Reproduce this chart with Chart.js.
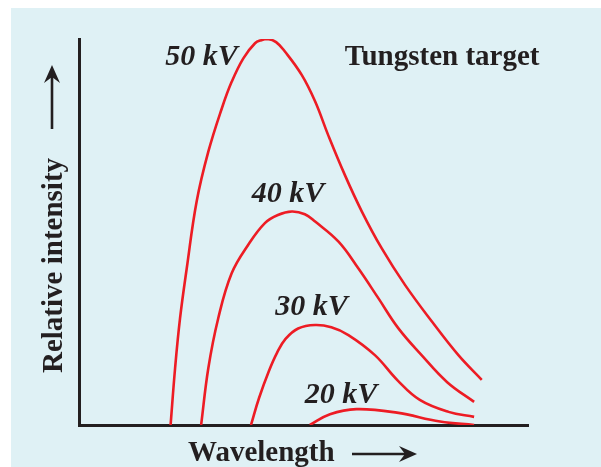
<!DOCTYPE html>
<html>
<head>
    <meta charset="UTF-8">
    <title>Tungsten target X-ray spectrum</title>
    <style>
        html, body { margin: 0; padding: 0; background: #ffffff; }
        #myChart { display: block; }
    </style>
</head>
<body>
    <canvas id="myChart" width="601" height="467"></canvas>

    <script src="https://cdn.jsdelivr.net/npm/chart.js@4.4.1/dist/chart.umd.min.js"></script>
    <script>
        // wavelength (arbitrary units 0-100) and relative intensity (0-100)
        var wl50  = [20.4, 21.4, 22.5, 24.0, 26.2, 28.8, 31.8, 34.0, 36.6, 39.2, 40.6, 42.0, 43.9, 45.9, 49.6, 52.6, 55.5, 59.2, 63.0, 67.4, 72.6, 78.6, 84.5, 89.7];
        var int50 = [0, 14.7, 27.6, 40.6, 57.9, 70.8, 82.0, 88.9, 95.0, 98.9, 99.7, 100, 99.2, 96.7, 90.7, 83.8, 75.1, 64.8, 55.3, 45.8, 36.3, 26.8, 18.1, 11.7];

        var wl40  = [27.2, 28.8, 31.0, 34.0, 37.7, 41.4, 44.3, 47.4, 50.3, 52.6, 57.8, 62.2, 66.7, 71.1, 76.3, 82.0, 88.0];
        var int40 = [0, 14.7, 27.6, 39.3, 46.7, 52.3, 54.4, 55.3, 54.6, 52.7, 47.5, 40.6, 32.8, 25.1, 18.1, 11.1, 6.0];

        var wl30  = [38.3, 40.1, 42.3, 44.1, 46.0, 48.8, 52.6, 56.2, 60.0, 65.9, 71.0, 75.9, 82.3, 88.0];
        var int30 = [0, 7.0, 14.0, 18.7, 22.3, 25.0, 25.9, 25.3, 23.3, 18.1, 11.5, 6.5, 3.4, 2.1];

        var wl20  = [51.4, 55.9, 61.8, 70.8, 80.4, 88.0];
        var int20 = [0, 2.8, 4.1, 3.2, 0.9, 0];

        var curveLabels = ['50 kV', '40 kV', '30 kV', '20 kV'];

        function toPoints(xs, ys) {
            return xs.map(function(x, i) { return {x: x, y: ys[i]}; });
        }

        var red = '#ed1c24';
        var ink = '#231f20';
        var serif = '"Liberation Serif", "DejaVu Serif", serif';

        function curve(label, xs, ys) {
            return {
                label: label,
                data: toPoints(xs, ys),
                borderColor: red,
                borderWidth: 2.6,
                pointRadius: 0,
                fill: false,
                tension: 0.4
            };
        }

        function arrow(ctx, x1, y1, x2, y2) {
            var ang = Math.atan2(y2 - y1, x2 - x1);
            var len = 18, half = 8;
            ctx.save();
            ctx.strokeStyle = ink;
            ctx.fillStyle = ink;
            ctx.lineWidth = 2.6;
            ctx.beginPath();
            ctx.moveTo(x1, y1);
            ctx.lineTo(x2 - Math.cos(ang) * 10, y2 - Math.sin(ang) * 10);
            ctx.stroke();
            ctx.translate(x2, y2);
            ctx.rotate(ang);
            ctx.beginPath();
            ctx.moveTo(0, 0);
            ctx.lineTo(-len, -half);
            ctx.lineTo(-len + 6, 0);
            ctx.lineTo(-len, half);
            ctx.closePath();
            ctx.fill();
            ctx.restore();
        }

        var decor = {
            id: 'decor',
            beforeDraw: function(chart) {
                var ctx = chart.ctx;
                ctx.save();
                ctx.fillStyle = '#dff1f5';
                ctx.fillRect(11, 8, chart.width - 11, chart.height - 8);
                ctx.restore();
            },
            afterDraw: function(chart) {
                var ctx = chart.ctx;
                var xs = chart.scales.x, ys = chart.scales.y;
                ctx.save();
                ctx.fillStyle = ink;
                ctx.textBaseline = 'alphabetic';

                // curve labels, anchored in data units
                var spots = [[19.2, 93.3], [38.5, 57.9], [43.7, 28.5], [50.3, 5.7]];
                ctx.font = 'italic bold 30px ' + serif;
                curveLabels.forEach(function(t, i) {
                    ctx.fillText(t, xs.getPixelForValue(spots[i][0]), ys.getPixelForValue(spots[i][1]));
                });

                ctx.font = 'bold 29px ' + serif;
                ctx.fillText('Tungsten target', xs.getPixelForValue(59.2), ys.getPixelForValue(93.3));

                // axis titles
                ctx.fillText('Wavelength', 188, 461);
                ctx.save();
                ctx.translate(62, 373);
                ctx.rotate(-Math.PI / 2);
                ctx.fillText('Relative intensity', 0, 0);
                ctx.restore();

                arrow(ctx, 352, 454, 417, 454);
                arrow(ctx, 52, 129, 52, 65);
                ctx.restore();
            }
        };

        new Chart('myChart', {
            type: 'line',
            data: {
                datasets: [
                    curve(curveLabels[0], wl50, int50),
                    curve(curveLabels[1], wl40, int40),
                    curve(curveLabels[2], wl30, int30),
                    curve(curveLabels[3], wl20, int20)
                ]
            },
            options: {
                responsive: false,
                animation: false,
                layout: { padding: { left: 71, top: 39, right: 73, bottom: 34 } },
                plugins: { legend: { display: false }, tooltip: { enabled: false } },
                scales: {
                    x: {
                        type: 'linear', min: 0, max: 100,
                        grid: { display: false },
                        ticks: { display: false },
                        border: { display: true, color: ink, width: 3 }
                    },
                    y: {
                        min: 0, max: 100,
                        grid: { display: false },
                        ticks: { display: false },
                        border: { display: true, color: ink, width: 3 }
                    }
                }
            },
            plugins: [decor]
        });
    </script>
</body>
</html>
